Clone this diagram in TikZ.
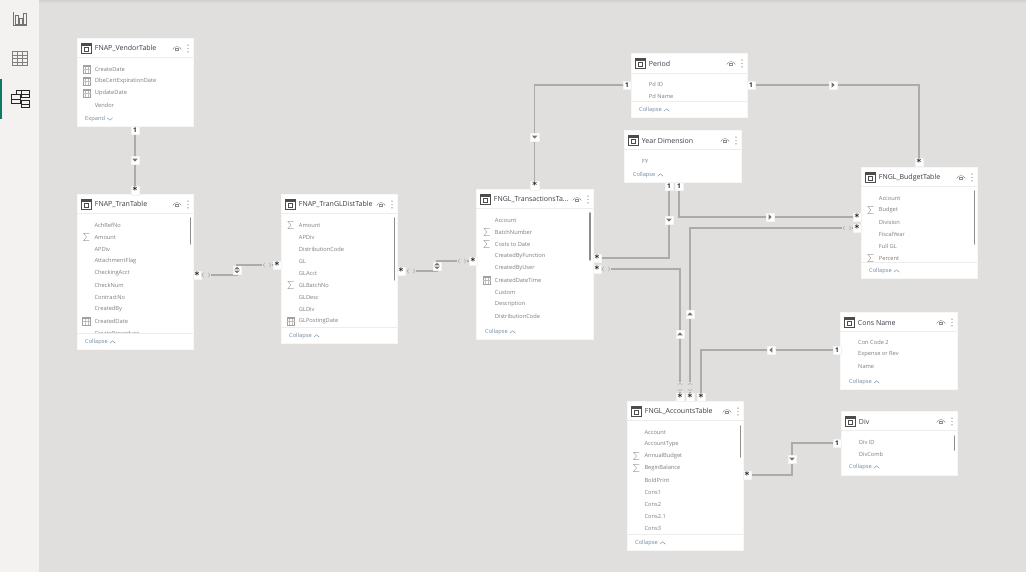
\documentclass[tikz,border=0pt]{standalone}
\usepackage{fontspec}
\setmainfont{Open Sans}
\newfontfamily\starfont{DejaVu Sans}
\usetikzlibrary{calc,backgrounds}

\definecolor{canvasgray}{HTML}{E1DFDD}
\definecolor{sidegray}{HTML}{F3F2F1}
\definecolor{linkgray}{HTML}{ADABA8}
\definecolor{crossgray}{HTML}{B4B2AF}
\definecolor{rulegray}{HTML}{EFEDEB}
\definecolor{fieldgray}{HTML}{7F7D80}
\definecolor{titledark}{HTML}{3A3B44}
\definecolor{foldblue}{HTML}{7389A0}
\definecolor{icongray}{HTML}{A3A19F}
\definecolor{scrollgray}{HTML}{8F8D8B}
\definecolor{tealbar}{HTML}{117865}

\tikzset{
  cardbox/.style={fill=white,draw=black!3,line width=0.3pt,inner sep=0pt,outer sep=0pt},
  footbox/.style={fill=white,inner sep=0pt,outer sep=0pt},
  titletext/.style={anchor=west,inner sep=0pt,text=titledark,font=\fontsize{7}{8}\selectfont},
  fieldtext/.style={anchor=west,inner sep=0pt,text=fieldgray,font=\fontsize{5.7}{7}\selectfont},
  foldtext/.style={anchor=west,inner sep=0pt,text=foldblue,font=\fontsize{5.7}{7}\selectfont},
  rulestyle/.style={rulegray,line width=0.7pt},
  scrollstyle/.style={scrollgray,line width=1.5pt,line cap=round},
  linkline/.style={linkgray,line width=1.2pt},
  badge/.style={fill=white,draw=black!5,line width=0.3pt,inner sep=0pt,outer sep=0pt,minimum size=8.5pt,
    text=black!85,font=\fontsize{6.5}{7}\selectfont\bfseries},
  onebox/.style={badge},
  manybox/.style={badge,font=\starfont\fontsize{9}{9}\bfseries\selectfont},
  bothbox/.style={badge,path picture={
    \fill[black!55,shift={(path picture bounding box.center)}]
      (-2.8,-0.6) -- (2.8,-0.6) -- (0,-3.2) -- cycle
      (-2.8,0.6) -- (2.8,0.6) -- (0,3.2) -- cycle;}},
  flowmark/.pic={\fill[black!55] (-2.8,-1.4) -- (2.8,-1.4) -- (0,1.6) -- cycle;},
  fieldn/.pic={},
  fields/.pic={\draw[icongray,line width=0.4pt] (3,-3.6) -- (-2.8,-3.6) -- (0.2,0) -- (-2.8,3.6) -- (3,3.6);},
  fieldc/.pic={\draw[icongray,line width=0.5pt] (-3.9,-3.9) rectangle (3.9,3.9);
    \fill[icongray] (-3.9,-3.9) rectangle (3.9,-2.2);
    \draw[icongray!70,line width=0.3pt] (-3.9,0) -- (3.9,0) (-1.3,-2.2) -- (-1.3,3.9) (1.3,-2.2) -- (1.3,3.9);},
  tableicon/.pic={\draw[black!70,line width=0.6pt] (-5,-4.8) rectangle (5,4.8);
    \fill[black!70] (-5,-4.8) rectangle (5,-2.9);
    \draw[black!70,line width=0.5pt] (-2.2,-1) rectangle (2.2,2.4);},
  eyeicon/.pic={\draw[black!45,line width=0.4pt] (-4.4,1) .. controls (-2,-3) and (2,-3) .. (4.4,1);
    \draw[black!45,line width=0.5pt] (-1.3,-0.4) rectangle (1.3,1.8);},
  dotsicon/.pic={\fill[black!45] (0,-3.4) circle (0.7) (0,0) circle (0.7) (0,3.4) circle (0.7);},
  crossmark/.pic={\fill[canvasgray] (-5,-2.5) rectangle (5,2.5);
    \draw[crossgray,line width=0.6pt] (-2.2,-2.2) -- (-3.8,0) -- (-2.2,2.2) (2.2,-2.2) -- (3.8,0) -- (2.2,2.2);}
}

% name, left, top, right, bottom, rule y, title
\newcommand{\tablecard}[7]{
  \node[cardbox,minimum width={(#4-#2)*1pt},minimum height={(#5-#3)*1pt}] (#1) at ({(#2+#4)/2},{(#3+#5)/2}) {};
  \node[titletext] (#1title) at (#2+17.7,#3+10.5) {#7};
  \pic at (#2+9.5,#3+10.5) {tableicon};
  \pic at (#4-16,#3+10.5) {eyeicon};
  \pic at (#4-5,#3+10.5) {dotsicon};
  \draw[rulestyle] (#2,#6) -- (#4,#6);
}
% name, text x, first y, rows as label/kind
\newcommand{\rowlist}[4]{
  \foreach \fname/\fkind [count=\rowno] in {#4}{
    \node[fieldtext] (#1row\rowno) at (#2,{#3+12*(\rowno-1)}) {\fname};
    \pic at (#2-8,{#3+12*(\rowno-1)}) {field\fkind};
  }
}
% name, x, y, label, chevron sign
\newcommand{\foldlabel}[5]{
  \node[foldtext] (#1fold) at (#2,#3) {#4};
  \draw[foldblue,line width=0.4pt] ($(#1fold.east)+(2,{#5*1.2})$) -- ++(2.7,{#5*(-2.4)}) -- ++(2.7,{#5*2.4});
}
% name, x, y, turn
\newcommand{\flowbadge}[4]{
  \node[badge] (#1) at (#2,#3) {};
  \pic[rotate=#4] at (#1) {flowmark};
}
\newcommand{\manymark}{\raisebox{-2.2pt}{*}}

\begin{document}
\begin{tikzpicture}[x=1pt,y=-1pt]
  \useasboundingbox (0,0) rectangle (1026,572);
  \begin{pgfonlayer}{background}
    \fill[canvasgray] (0,0) rectangle (1026,572);
    \fill[sidegray] (0,0) rectangle (39,572);
    \shade[top color=black!22,bottom color=canvasgray,opacity=0.6] (39,0) rectangle (1026,3);
  \end{pgfonlayer}

  % left rail
  \fill[tealbar] (0,79) rectangle (2,119);
  \draw[black!55,line width=0.6pt] (13.5,12.5) -- (13.5,25.7) -- (26.7,25.7);
  \draw[black!55,line width=0.6pt] (15.5,15) rectangle (18,24) (19.5,18) rectangle (22,24) (23.5,13) rectangle (26,24);
  \draw[black!50,line width=0.6pt] (12.5,51.5) rectangle (27.5,65.5);
  \draw[black!50,line width=0.6pt] (12.5,55) -- (27.5,55) (12.5,58.5) -- (27.5,58.5) (12.5,62) -- (27.5,62) (17.5,51.5) -- (17.5,65.5) (22.5,51.5) -- (22.5,65.5);
  \draw[black!85,line width=0.8pt] (11.5,94.5) rectangle (20,103.5) (21.5,90.5) rectangle (29,97.5) (21.5,100.5) rectangle (29,107.5);
  \draw[black!85,line width=0.6pt] (11.5,99) -- (20,99) (21.5,94) -- (29,94) (21.5,104) -- (29,104) (16,94.5) -- (16,90.5) -- (21.5,90.5);

  % tables
  \tablecard{vendor}{77}{38}{193}{126}{57.5}{FNAP\_VendorTable}
  \rowlist{vendor}{94.7}{69}{CreateDate/c,DbeCertExpirationDate/c,UpdateDate/c,Vendor/n}
  \foldlabel{vendor}{85}{119}{Expand}{-1}

  \tablecard{tran}{77}{194}{193}{349}{213.5}{FNAP\_TranTable}
  \rowlist{tran}{94.4}{225}{AchRefNo/n,Amount/s,APDiv/n,AttachmentFlag/n,CheckingAcct/n,CheckNum/n,ContractNo/n,CreatedBy/n,CreatedDate/c,CreateProcedure/n}
  \node[footbox,minimum width=115pt,minimum height=15.6pt] (tranfoot) at (135,341) {};
  \draw[rulestyle] (77,333.5) -- (193,333.5);
  \draw[scrollstyle] (190.3,218) -- (190.3,244);
  \foldlabel{tran}{85}{342}{Collapse}{1}

  \tablecard{gldist}{281}{194}{397}{343}{213.5}{FNAP\_TranGLDistTable}
  \rowlist{gldist}{298.7}{225}{Amount/s,APDiv/n,DistributionCode/n,GL/n,GLAcct/n,GLBatchNo/s,GLDesc/n,GLDiv/n,GLPostingDate/c}
  \draw[rulestyle] (281,327.5) -- (397,327.5);
  \draw[scrollstyle] (394.7,218) -- (394.7,280);
  \foldlabel{gldist}{289}{336}{Collapse}{1}

  \tablecard{trans}{476}{189}{593}{339}{208.5}{FNGL\_TransactionsTa...}
  \rowlist{trans}{494.7}{220}{Account/n,BatchNumber/s,Costs to Date/s,CreatedByFunction/n,CreatedByUser/n,CreatedDateTime/c,Custom/n,Description/n,DistributionCode/n}
  \draw[scrollstyle] (590,213) -- (590,260);
  \foldlabel{trans}{485}{332}{Collapse}{1}

  \tablecard{period}{631}{53}{747}{117}{73.5}{Period}
  \rowlist{period}{648.7}{84}{Pd ID/n,Pd Name/n}
  \draw[rulestyle] (631,101) -- (747,101);
  \foldlabel{period}{639}{110}{Collapse}{1}

  \tablecard{year}{624}{130}{741}{182}{149.5}{Year Dimension}
  \rowlist{year}{642}{161}{FY/n}
  \foldlabel{year}{632.7}{175}{Collapse}{1}

  \tablecard{budget}{861}{167}{977}{278}{186.5}{FNGL\_BudgetTable}
  \rowlist{budget}{878.7}{198}{Account/n,Budget/s,Division/n,FiscalYear/n,Full GL/n,Percent/s}
  \draw[rulestyle] (861,262.5) -- (977,262.5);
  \draw[scrollstyle] (974.3,191) -- (974.3,244);
  \foldlabel{budget}{869}{271}{Collapse}{1}

  \tablecard{consname}{840}{312}{957}{389}{331.5}{Cons Name}
  \rowlist{consname}{858}{342}{Con Code 2/n,Expense or Rev/n,Name/n}
  \foldlabel{consname}{849}{382}{Collapse}{1}

  \tablecard{accts}{627}{401}{743}{550}{420.5}{FNGL\_AccountsTable}
  \rowlist{accts}{644.3}{432}{Account/n,AccountType/n,AnnualBudget/s,BeginBalance/s,BoldPrint/n,Cons1/n,Cons2/n,Cons2.1/n,Cons3/n}
  \draw[rulestyle] (627,534.5) -- (743,534.5);
  \draw[scrollstyle] (740.7,426) -- (740.7,457);
  \foldlabel{accts}{635}{543}{Collapse}{1}

  \tablecard{div}{841}{411}{957}{475}{430.5}{Div}
  \rowlist{div}{858.7}{442}{Div ID/n,DivComb/n}
  \draw[scrollstyle] (954.3,436) -- (954.3,450);
  \foldlabel{div}{849}{467}{Collapse}{1}

  % cardinality marks
  \node[onebox] (vendorone) at (135,130) {1};
  \node[manybox] (tranmanytop) at (135,190.5) {\manymark};
  \node[manybox] (tranmanyright) at (197,275) {\manymark};
  \node[manybox] (gldistmanyleft) at (277,265) {\manymark};
  \node[manybox] (gldistmanyright) at (401,271) {\manymark};
  \node[manybox] (transmanyleft) at (473,261) {\manymark};
  \node[manybox] (transmanytop) at (534.7,185.5) {\manymark};
  \node[manybox] (transmanya) at (597,258) {\manymark};
  \node[manybox] (transmanyb) at (597,269) {\manymark};
  \node[onebox] (periodoneleft) at (627,85) {1};
  \node[onebox] (periodoneright) at (751,85) {1};
  \node[onebox] (yearonea) at (669,186) {1};
  \node[onebox] (yearoneb) at (679,186) {1};
  \node[manybox] (budgetmanytop) at (919,162) {\manymark};
  \node[manybox] (budgetmanya) at (857,217) {\manymark};
  \node[manybox] (budgetmanyb) at (857,228) {\manymark};
  \node[onebox] (consone) at (837,350) {1};
  \node[onebox] (divone) at (837,443) {1};
  \node[manybox] (acctsmanya) at (680,397) {\manymark};
  \node[manybox] (acctsmanyb) at (690,397) {\manymark};
  \node[manybox] (acctsmanyc) at (701,397) {\manymark};
  \node[manybox] (acctsmanyright) at (747,475) {\manymark};

  % filter direction marks
  \flowbadge{vendorflow}{135}{160}{0}
  \node[bothbox] (tranflow) at (237,270) {};
  \node[bothbox] (gldistflow) at (437,266) {};
  \flowbadge{periodflowa}{534.7}{137}{0}
  \flowbadge{periodflowb}{833}{85}{90}
  \flowbadge{yearflowa}{669}{220}{0}
  \flowbadge{yearflowb}{770}{217}{90}
  \flowbadge{budgetflow}{690}{314}{180}
  \flowbadge{transflow}{680}{334}{180}
  \flowbadge{consflow}{771}{350}{-90}
  \flowbadge{divflow}{792}{459}{0}

  % links
  \begin{pgfonlayer}{background}
    \draw[linkline] (vendorone) -- (tranmanytop);
    \draw[linkline] (tranmanyright) -| (tranflow.center) |- (gldistmanyleft);
    \draw[linkline] (gldistmanyright) -| (gldistflow.center) |- (transmanyleft);
    \draw[linkline] (periodoneleft) -| (transmanytop);
    \draw[linkline] (periodoneright) -| (budgetmanytop);
    \draw[linkline] (yearonea) |- (transmanya);
    \draw[linkline] (yearoneb) |- (budgetmanya);
    \draw[linkline] (budgetmanyb) -| (acctsmanyb);
    \draw[linkline] (transmanyb) -| (acctsmanya);
    \draw[linkline] (consone) -| (acctsmanyc);
    \draw[linkline] (acctsmanyright) -| (divflow.center) |- (divone);
  \end{pgfonlayer}

  % both-way crossings
  \pic at (206,275) {crossmark};
  \pic at (267,265) {crossmark};
  \pic at (411,271) {crossmark};
  \pic at (462,261) {crossmark};
  \pic at (606,269) {crossmark};
  \pic at (847,228) {crossmark};
  \pic[rotate=90] at (680,387) {crossmark};
  \pic[rotate=90] at (690,387) {crossmark};
\end{tikzpicture}
\end{document}
